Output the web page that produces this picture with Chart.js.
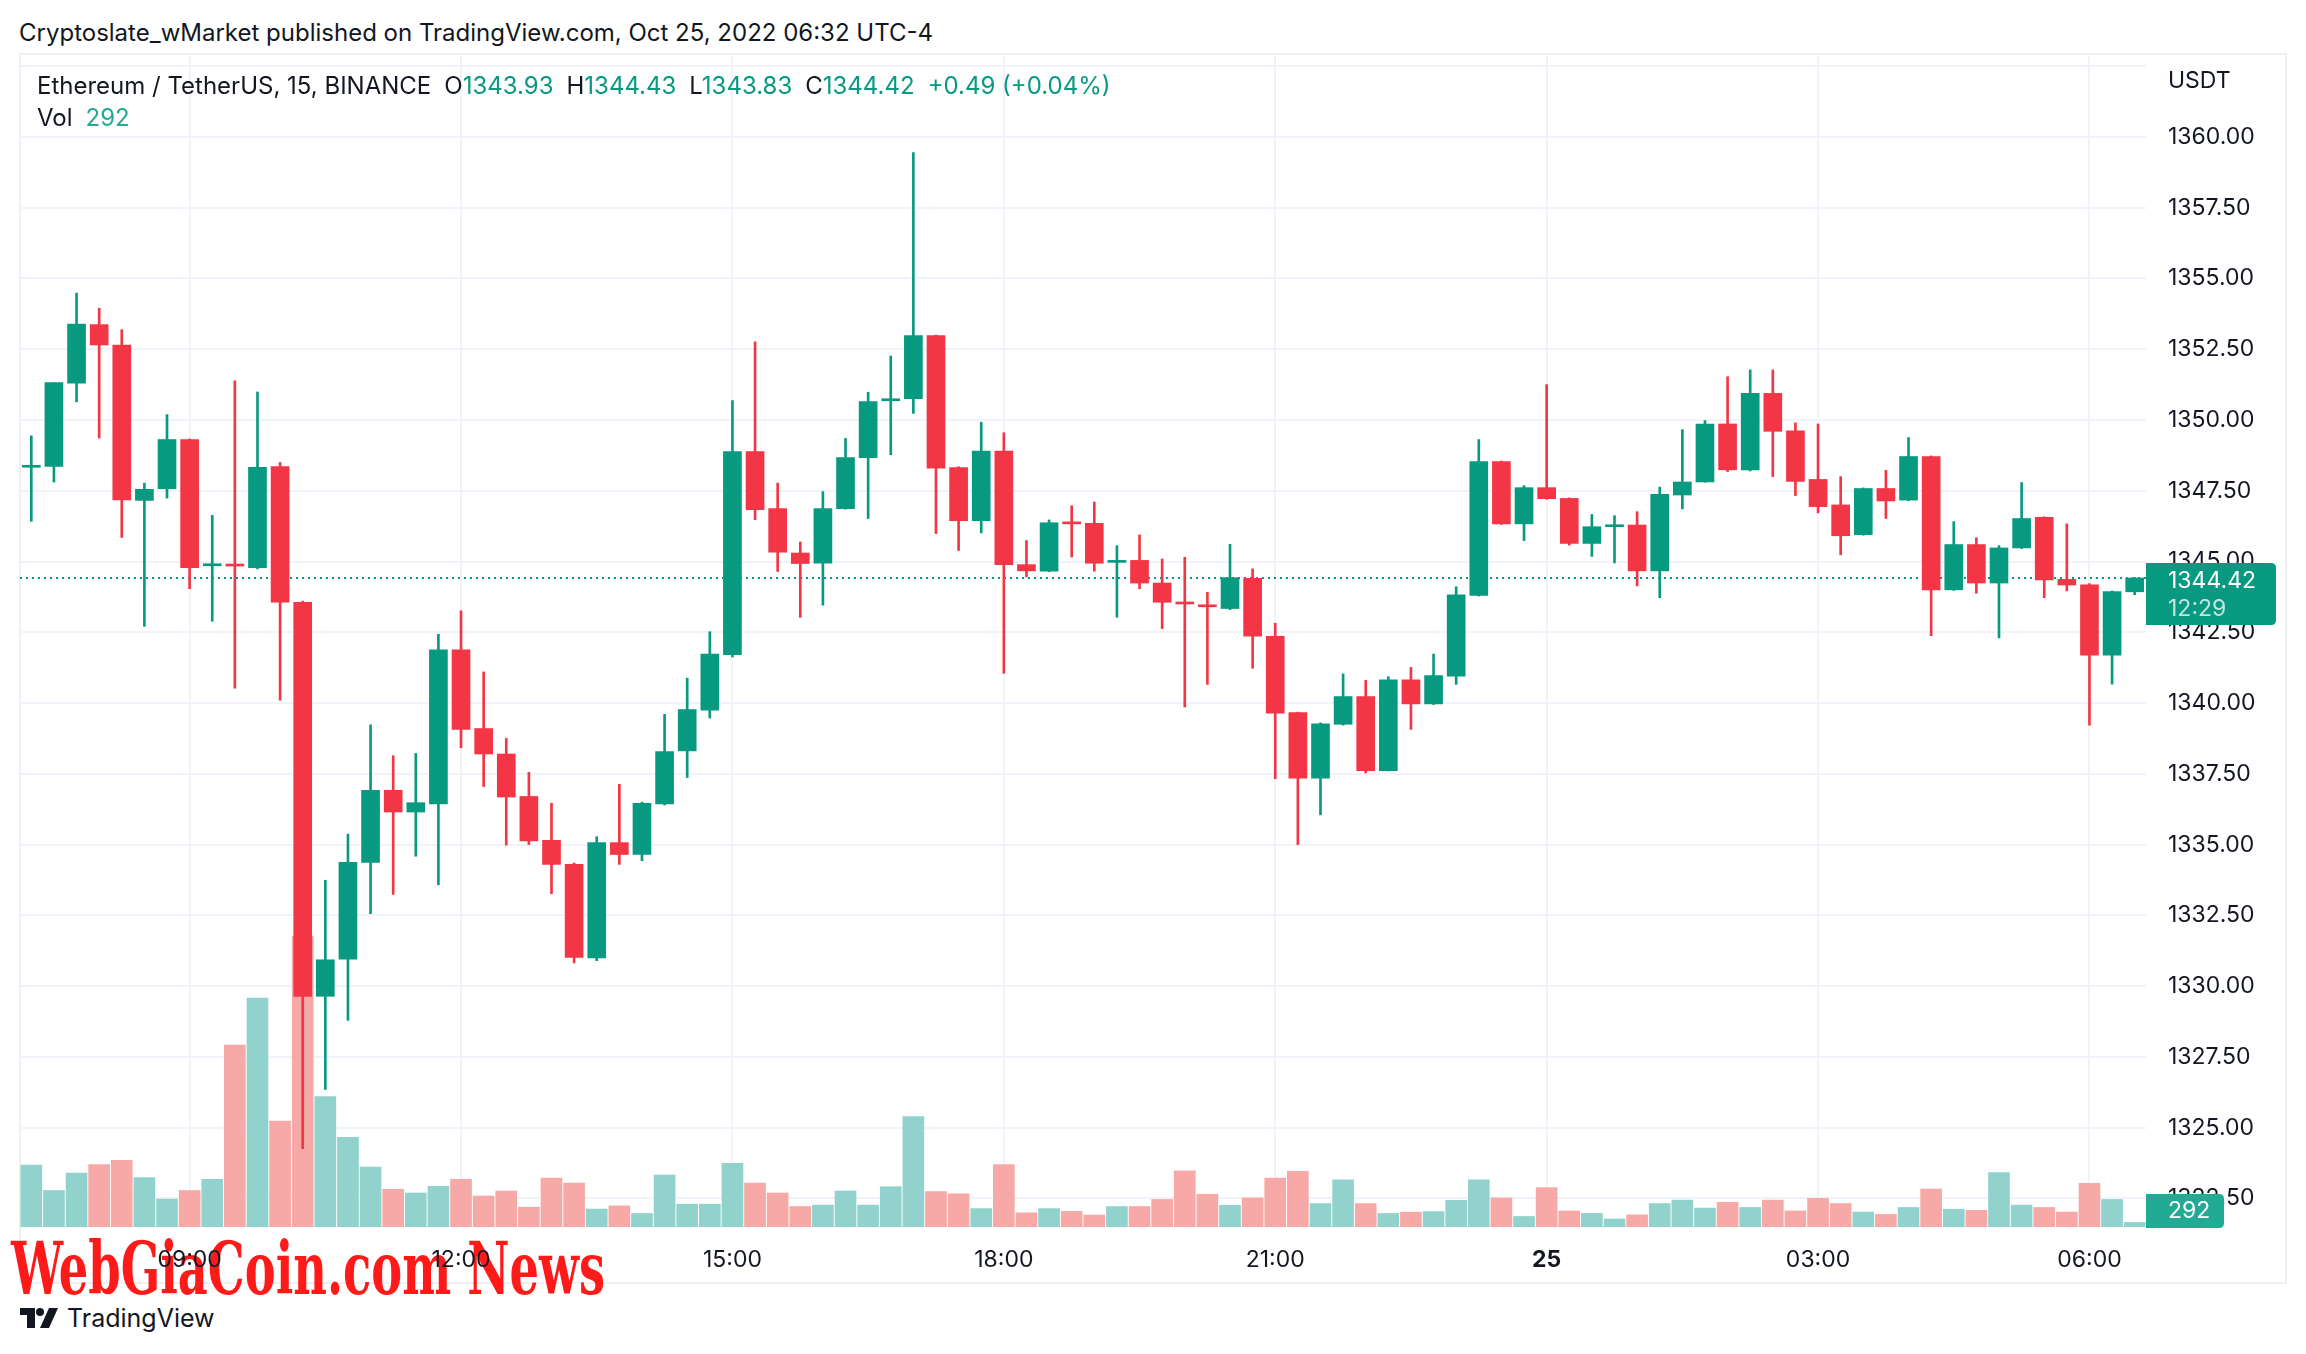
<!DOCTYPE html>
<html>
<head>
<meta charset="utf-8">
<script src="https://cdn.jsdelivr.net/npm/chart.js@4.4.0/dist/chart.umd.min.js"></script>
<style>
  html, body { margin: 0; padding: 0; background: #ffffff; }
  body { width: 2306px; height: 1354px; position: relative; overflow: hidden; font-family: Inter, "Noto Sans", sans-serif; color: #131722; }
  #frame { position: absolute; left: 19px; top: 53px; width: 2268px; height: 1231px; box-sizing: border-box; border: 2px solid #EEF0F4; z-index: 0; }
  #wm { position: absolute; left: 11px; top: 1233px; font-family: "DejaVu Serif Condensed", "DejaVu Serif", serif; font-weight: bold; font-size: 72px; line-height: 72px; color: #FF1A1A; white-space: nowrap; transform-origin: 0 0; z-index: 1; }
  #wrap { position: absolute; left: 19px; top: 53px; width: 2268px; height: 1231px; z-index: 2; }
  #header { position: absolute; left: 19px; top: 19px; font-size: 24px; line-height: 28px; white-space: nowrap; z-index: 3; }
  .leg { position: absolute; left: 37px; font-size: 24px; line-height: 28px; white-space: nowrap; z-index: 3; }
  .g { color: #089981; }
  .v { color: #22AB94; }
  .sp { margin-left: 13px; }
  #tv { position: absolute; left: 20px; top: 1306px; height: 24px; display: flex; align-items: center; z-index: 3; }
  #tv span { font-size: 25px; margin-left: 9px; color: #131722; }
</style>
</head>
<body>
<div id="frame"></div>
<div id="wm">WebGiaCoin.com News</div>
<div id="wrap"><canvas id="c" width="2268" height="1231"></canvas></div>
<div id="header">Cryptoslate_wMarket published on TradingView.com, Oct 25, 2022 06:32 UTC-4</div>
<div class="leg" id="leg1" style="top:72px">Ethereum / TetherUS, 15, BINANCE<span class="sp">O</span><span class="g">1343.93</span><span class="sp">H</span><span class="g">1344.43</span><span class="sp">L</span><span class="g">1343.83</span><span class="sp">C</span><span class="g">1344.42</span><span class="g sp">+0.49 (+0.04%)</span></div>
<div class="leg" style="top:104px">Vol<span class="v sp">292</span></div>
<div id="tv">
  <svg width="38" height="20" viewBox="0 0 38 20"><path d="M0 0H15V20H7V7H0Z" fill="#131722"/><circle cx="20" cy="4" r="4" fill="#131722"/><path d="M29 0H38L29 20H20Z" fill="#131722"/></svg>
  <span>TradingView</span>
</div>
<script>
// ---- data ----
const categories = [
 '07:15','07:30','07:45',
 '08:00','08:15','08:30','08:45','09:00','09:15','09:30','09:45',
 '10:00','10:15','10:30','10:45','11:00','11:15','11:30','11:45',
 '12:00','12:15','12:30','12:45','13:00','13:15','13:30','13:45',
 '14:00','14:15','14:30','14:45','15:00','15:15','15:30','15:45',
 '16:00','16:15','16:30','16:45','17:00','17:15','17:30','17:45',
 '18:00','18:15','18:30','18:45','19:00','19:15','19:30','19:45',
 '20:00','20:15','20:30','20:45','21:00','21:15','21:30','21:45',
 '22:00','22:15','22:30','22:45','23:00','23:15','23:30','23:45',
 '00:00','00:15','00:30','00:45','01:00','01:15','01:30','01:45',
 '02:00','02:15','02:30','02:45','03:00','03:15','03:30','03:45',
 '04:00','04:15','04:30','04:45','05:00','05:15','05:30','05:45',
 '06:00','06:15','06:30'
];
const openP = [
 1348.33,1348.36,1351.30,1353.37,1352.65,1347.16,1347.57,1349.31,1344.85,1344.90,
 1344.78,1348.35,1343.56,1329.64,1330.95,1334.37,1336.92,1336.15,1336.44,1341.88,
 1339.10,1338.20,1336.70,1335.15,1334.30,1331.00,1335.07,1334.65,1336.44,1338.31,
 1339.75,1341.71,1348.88,1346.87,1345.30,1344.94,1346.87,1348.67,1350.68,1350.75,
 1352.98,1348.32,1346.44,1348.90,1344.89,1344.66,1346.37,1346.35,1344.97,1345.04,
 1344.24,1343.56,1343.45,1343.34,1344.41,1342.36,1339.66,1337.35,1339.25,1340.23,
 1337.61,1340.82,1339.97,1340.95,1343.80,1348.53,1346.33,1347.61,1347.23,1345.64,
 1346.23,1346.29,1344.67,1347.35,1347.81,1349.86,1348.24,1350.94,1349.62,1347.90,
 1347.00,1345.95,1347.58,1347.17,1348.71,1344.00,1345.60,1344.24,1345.48,1346.56,
 1344.37,1344.18,1341.69,1343.93
];
const highP = [
 1349.44,1351.32,1354.48,1353.95,1353.19,1347.77,1350.19,1349.33,1346.63,1351.38,
 1350.99,1348.50,1343.60,1333.74,1335.37,1339.23,1338.14,1338.22,1342.43,1343.26,
 1341.10,1338.75,1337.55,1336.46,1334.35,1335.28,1337.13,1336.50,1339.60,1340.88,
 1342.52,1350.69,1352.76,1347.77,1345.69,1347.47,1349.35,1350.98,1352.26,1359.45,
 1353.00,1348.35,1349.92,1349.55,1345.74,1346.47,1346.97,1347.10,1345.56,1345.94,
 1345.09,1345.15,1343.91,1345.61,1344.74,1342.82,1339.68,1339.30,1341.03,1340.80,
 1340.93,1341.26,1341.73,1344.11,1349.31,1348.55,1347.68,1351.25,1347.25,1346.66,
 1346.62,1346.76,1347.63,1349.66,1349.98,1351.53,1351.77,1351.77,1349.90,1349.86,
 1348.00,1347.60,1348.22,1349.38,1348.73,1346.41,1345.84,1345.56,1347.79,1346.58,
 1346.33,1344.22,1343.96,1344.43
];
const lowP = [
 1346.42,1347.81,1350.64,1349.36,1345.85,1342.71,1347.24,1344.04,1342.89,1340.53,
 1344.74,1340.10,1324.26,1326.35,1328.79,1332.56,1333.24,1334.59,1333.58,1338.42,
 1337.05,1334.98,1335.00,1333.26,1330.82,1330.90,1334.30,1334.43,1336.40,1337.37,
 1339.47,1341.63,1346.48,1344.65,1343.03,1343.46,1346.85,1346.52,1348.77,1350.23,
 1345.99,1345.39,1346.01,1341.05,1344.46,1344.64,1345.16,1344.66,1343.03,1344.04,
 1342.63,1339.86,1340.66,1343.30,1341.23,1337.33,1335.00,1336.05,1339.22,1337.53,
 1337.60,1339.07,1339.95,1340.66,1343.78,1346.31,1345.74,1347.20,1345.58,1345.18,
 1344.95,1344.14,1343.72,1346.86,1347.80,1348.18,1348.20,1348.00,1347.33,1346.72,
 1345.24,1345.93,1346.52,1347.15,1342.38,1343.98,1343.88,1342.30,1345.46,1343.72,
 1343.96,1339.22,1340.67,1343.83
];
const closeP = [
 1348.36,1351.32,1353.39,1352.65,1347.18,1347.55,1349.31,1344.78,1344.90,1344.84,
 1348.33,1343.56,1329.64,1330.93,1334.37,1336.92,1336.15,1336.48,1341.88,1339.07,
 1338.20,1336.68,1335.13,1334.30,1331.01,1335.07,1334.65,1336.46,1338.29,1339.77,
 1341.73,1348.88,1346.83,1345.33,1344.93,1346.87,1348.67,1350.65,1350.72,1352.98,
 1348.30,1346.44,1348.90,1344.89,1344.67,1346.37,1346.33,1344.94,1345.00,1344.24,
 1343.56,1343.50,1343.40,1344.43,1342.36,1339.64,1337.35,1339.27,1340.23,1337.61,
 1340.82,1339.97,1340.97,1343.82,1348.53,1346.33,1347.61,1347.22,1345.64,1346.23,
 1346.26,1344.67,1347.37,1347.81,1349.86,1348.24,1350.94,1349.60,1347.83,1346.94,
 1345.91,1347.58,1347.14,1348.71,1344.00,1345.60,1344.24,1345.48,1346.52,1344.35,
 1344.17,1341.69,1343.94,1344.42
];
const volume = [
 3930,2320,3420,3970,4240,3140,1770,2320,3030,11550,
 14540,6720,18470,8290,5700,3810,2400,2160,2590,3030,
 1970,2280,1260,3100,2790,1140,1340,860,3300,1450,
 1450,4050,2790,2160,1300,1390,2290,1390,2560,7010,
 2250,2110,1170,3960,900,1170,990,760,1300,1300,
 1750,3560,2080,1380,1850,3100,3540,1490,2990,1490,
 860,940,980,1690,2990,1850,670,2500,1020,870,
 510,770,1490,1710,1200,1570,1240,1710,1020,1820,
 1490,950,800,1240,2410,1130,1060,3460,1390,1240,
 950,2770,1750,292
];
const priceTicks = [1322.5,1325,1327.5,1330,1332.5,1335,1337.5,1340,1342.5,1345,1347.5,1350,1352.5,1355,1357.5,1360,1362.5];
const xTickCats = ['09:00','12:00','15:00','18:00','21:00','00:00','03:00','06:00'];
const xTickLabels = ['09:00','12:00','15:00','18:00','21:00','25','03:00','06:00'];
const lastPrice = 1344.42;
const lastVolume = 292;
const countdown = '12:29';

// ---- styles ----
const UP = '#089981', DOWN = '#F23645';
const UP_V = '#92D2CC', DOWN_V = '#F7A9A7';
const GRID = '#F0F3FA';
const CLEAR = 'rgba(0,0,0,0)';
const isUp = i => closeP[i] >= openP[i];

const bodies = categories.map((_, i) => [Math.min(openP[i], closeP[i]), Math.max(openP[i], closeP[i])]);
const wicks = categories.map((_, i) => [lowP[i], highP[i]]);
const candleColors = categories.map((_, i) => isUp(i) ? UP : DOWN);
const volColors = categories.map((_, i) => isUp(i) ? UP_V : DOWN_V);

function roundRectR(ctx, x, y, w, h, r) {
  ctx.beginPath();
  ctx.moveTo(x, y);
  ctx.lineTo(x + w - r, y);
  ctx.quadraticCurveTo(x + w, y, x + w, y + r);
  ctx.lineTo(x + w, y + h - r);
  ctx.quadraticCurveTo(x + w, y + h, x + w - r, y + h);
  ctx.lineTo(x, y + h);
  ctx.closePath();
}

const overlay = {
  id: 'overlay',
  beforeDatasetsDraw(chart) {
    const { ctx, chartArea, scales } = chart;
    const py = scales.y.getPixelForValue(lastPrice);
    ctx.save();
    ctx.strokeStyle = UP;
    ctx.lineWidth = 2;
    ctx.setLineDash([2, 4]);
    ctx.beginPath();
    ctx.moveTo(chartArea.left, py);
    ctx.lineTo(chartArea.right, py);
    ctx.stroke();
    ctx.restore();
  },
  afterDraw(chart) {
    const { ctx, chartArea, scales } = chart;
    const R = chartArea.right;
    ctx.save();
    ctx.font = '23px Inter';
    ctx.fillStyle = '#131722';
    ctx.textBaseline = 'middle';
    ctx.textAlign = 'left';
    ctx.fillText('USDT', R + 22, chartArea.top + 27);
    const py = scales.y.getPixelForValue(lastPrice);
    ctx.fillStyle = UP;
    roundRectR(ctx, R, py - 15, 130, 62, 5);
    ctx.fill();
    ctx.fillStyle = '#ffffff';
    ctx.fillText(lastPrice.toFixed(2), R + 22, py + 3);
    ctx.fillStyle = 'rgba(255,255,255,0.75)';
    ctx.fillText(countdown, R + 22, py + 31);
    const vy = Math.min(scales.yv.getPixelForValue(lastVolume), chartArea.bottom - 17);
    ctx.fillStyle = '#22AB94';
    roundRectR(ctx, R, vy - 16, 78, 34, 5);
    ctx.fill();
    ctx.fillStyle = '#ffffff';
    ctx.fillText(String(lastVolume), R + 22, vy + 1);
    ctx.restore();
  }
};

new Chart(document.getElementById('c'), {
  type: 'bar',
  data: {
    labels: categories,
    datasets: [
      { label: 'body', data: bodies, backgroundColor: candleColors, barThickness: 18, minBarLength: 2, grouped: false, order: 0, yAxisID: 'y' },
      { label: 'wick', data: wicks, backgroundColor: candleColors, barThickness: 2, grouped: false, order: 1, yAxisID: 'y' },
      { label: 'vol', data: volume, backgroundColor: volColors, barThickness: 21, grouped: false, order: 2, yAxisID: 'yv' }
    ]
  },
  options: {
    responsive: false,
    animation: false,
    layout: { padding: { left: 1, top: 1, right: 0, bottom: 0 } },
    plugins: { legend: { display: false }, tooltip: { enabled: false } },
    scales: {
      x: {
        type: 'category',
        offset: true,
        border: { display: false },
        grid: {
          offset: false,
          drawTicks: true,
          tickLength: 19,
          tickColor: CLEAR,
          lineWidth: 2,
          color: c => xTickCats.includes(categories[c.index]) ? GRID : CLEAR
        },
        ticks: {
          autoSkip: false,
          maxRotation: 0,
          padding: 0,
          color: '#131722',
          font: c => ({ family: 'Inter', size: 23, weight: (c.tick && c.tick.label === '25') ? 'bold' : 'normal' }),
          callback: function (v) {
            const k = xTickCats.indexOf(this.getLabelForValue(v));
            return k >= 0 ? xTickLabels[k] : '';
          }
        },
        afterFit: a => { a.height = 57; }
      },
      y: {
        position: 'right',
        min: 1321.49,
        max: 1362.93,
        border: { display: false },
        grid: { color: GRID, lineWidth: 2, drawTicks: true, tickLength: 22, tickColor: CLEAR },
        afterBuildTicks: a => { a.ticks = priceTicks.map(v => ({ value: v })); },
        ticks: {
          padding: 0,
          color: '#131722',
          font: c => ({ family: 'Inter', size: (c.tick && c.tick.value === 1362.5) ? 1 : 23 }),
          callback: v => v === 1362.5 ? '' : Number(v).toFixed(2)
        },
        afterFit: a => { a.width = 141; }
      },
      yv: {
        display: false,
        min: 0,
        max: 74500
      }
    }
  },
  plugins: [overlay]
});

const wm = document.getElementById('wm');
const w = wm.getBoundingClientRect().width;
wm.style.transform = 'scaleX(' + (594 / w) + ')';
</script>
</body>
</html>
